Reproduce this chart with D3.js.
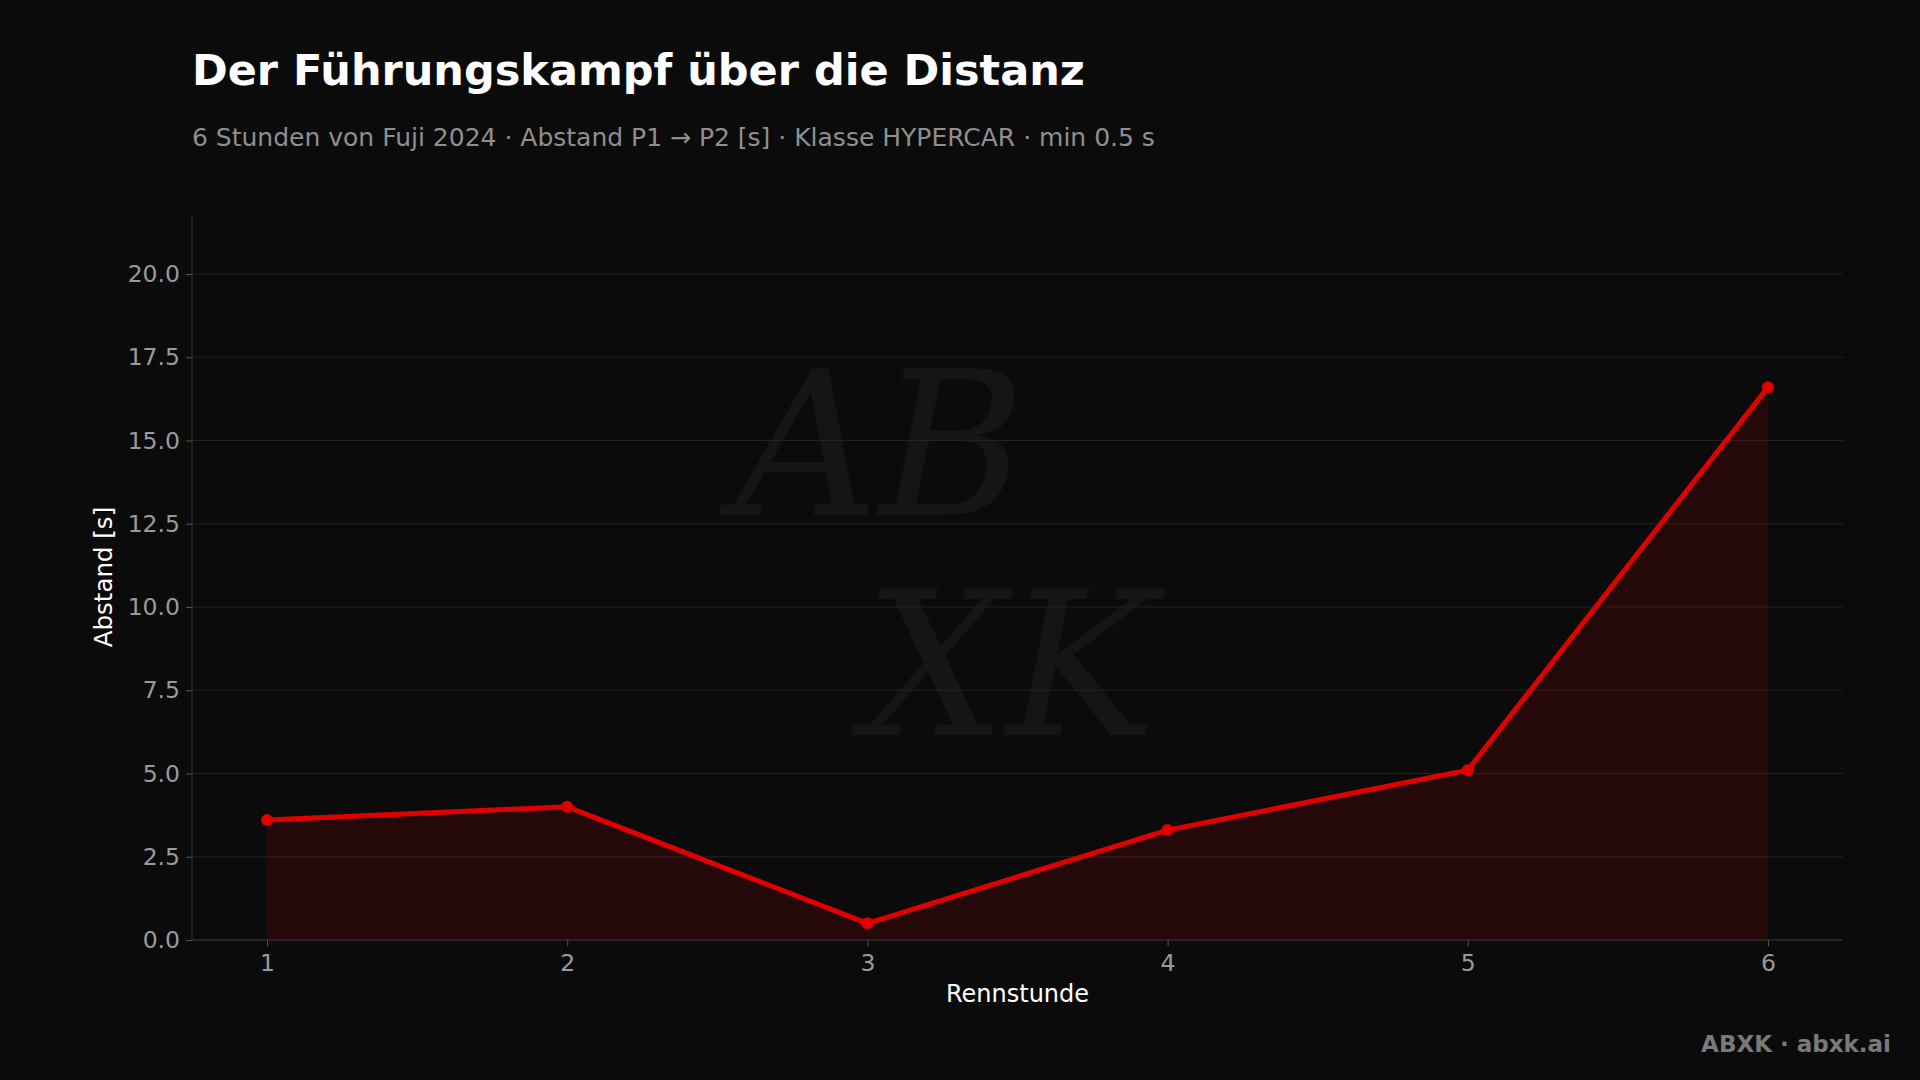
<!DOCTYPE html>
<html><head><meta charset="utf-8">
<script src="https://cdn.jsdelivr.net/npm/d3@7"></script>
<style>body{margin:0;background:#0b0b0b;}svg{display:block;font-family:"DejaVu Sans",sans-serif;}</style>
</head><body><svg id="c" width="1920" height="1080"></svg>
<script>
const hours = [1,2,3,4,5,6];
const gaps = [3.6,4.0,0.5,3.3,5.1,16.6];
const yTicks = [0,2.5,5,7.5,10,12.5,15,17.5,20];

const svg = d3.select("#c");
svg.append("rect").attr("width",1920).attr("height",1080).attr("fill","#0b0b0b");
const L=192,R=1843,T=215,B=940;
const x = d3.scaleLinear().domain([0.75,6.25]).range([L,R]);
const y = d3.scaleLinear().domain([0,20]).range([B,274]);

svg.append("text").attr("x",880).attr("y",515).attr("text-anchor","middle").attr("font-family","DejaVu Serif").attr("font-style","italic")
  .attr("font-size",200).attr("fill","#151515").text("AB");
svg.append("text").attr("x",1010).attr("y",735).attr("text-anchor","middle").attr("font-family","DejaVu Serif").attr("font-style","italic")
  .attr("font-size",200).attr("fill","#151515").text("XK");

svg.append("g").selectAll("line").data(yTicks).join("line")
  .attr("x1",L).attr("x2",R).attr("y1",d=>y(d)).attr("y2",d=>y(d)).attr("stroke","#222").attr("stroke-width",1);
svg.append("line").attr("x1",L).attr("x2",L).attr("y1",T).attr("y2",B).attr("stroke","#333");
svg.append("line").attr("x1",L).attr("x2",R).attr("y1",B).attr("y2",B).attr("stroke","#333");

const yA = svg.append("g").attr("transform",`translate(${L},0)`).call(d3.axisLeft(y).tickValues(yTicks).tickFormat(d3.format(".1f")).tickSize(6));
const xA = svg.append("g").attr("transform",`translate(0,${B})`).call(d3.axisBottom(x).tickValues(hours).tickFormat(d3.format("d")).tickSize(6));
[yA,xA].forEach(a=>{a.select(".domain").remove();a.selectAll("line").attr("stroke","#555");
  a.selectAll("text").attr("fill","#9a9a9a").attr("font-size",23.5).attr("font-family","DejaVu Sans");});
yA.selectAll("text").attr("x",-12);
xA.selectAll("text").attr("y",14);

svg.append("path").datum(hours).attr("fill","#b00000").attr("fill-opacity",0.16)
  .attr("d",d3.area().x(d=>x(d)).y0(y(0)).y1((d,i)=>y(gaps[i])));
svg.append("path").datum(hours).attr("fill","none").attr("stroke","#e00000").attr("stroke-width",5).attr("stroke-linejoin","round")
  .attr("d",d3.line().x(d=>x(d)).y((d,i)=>y(gaps[i])));
svg.append("g").selectAll("circle").data(hours).join("circle")
  .attr("cx",d=>x(d)).attr("cy",(d,i)=>y(gaps[i])).attr("r",6).attr("fill","#e00000");

svg.append("text").attr("x",192).attr("y",85).attr("fill","#ffffff").attr("font-size",43).attr("font-weight","bold").text("Der Führungskampf über die Distanz");
svg.append("text").attr("x",192).attr("y",146).attr("fill","#8f8f8f").attr("font-size",25).text("6 Stunden von Fuji 2024 · Abstand P1 → P2 [s] · Klasse HYPERCAR · min 0.5 s");
svg.append("text").attr("x",(L+R)/2+0).attr("y",1002).attr("text-anchor","middle").attr("fill","#ffffff").attr("font-size",24).text("Rennstunde");
svg.append("text").attr("transform",`translate(112,${y(10.9)}) rotate(-90)`).attr("text-anchor","middle").attr("fill","#ffffff").attr("font-size",24.5).text("Abstand [s]");
svg.append("text").attr("x",1891).attr("y",1052).attr("text-anchor","end").attr("fill","#7a7a7a").attr("font-size",23).attr("font-weight","bold").text("ABXK · abxk.ai");
</script></body></html>
